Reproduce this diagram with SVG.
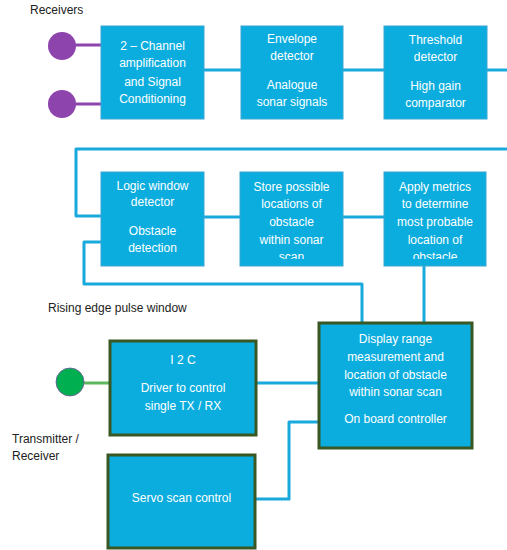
<svg xmlns="http://www.w3.org/2000/svg" width="507" height="550" viewBox="0 0 507 550">
<style>
.box{fill:#0badde;stroke:#3aa6d4;stroke-width:1}
.gbox{fill:#0badde;stroke:#385723;stroke-width:3}
.t{font-family:"Liberation Sans",Arial,sans-serif;font-size:12px;fill:#ffffff;text-anchor:middle}
.lbl{font-family:"Liberation Sans",Arial,sans-serif;font-size:12px;fill:#222222}
.c{fill:none;stroke:#1aa9dc;stroke-width:3;stroke-linejoin:round}
.pl{stroke:#8e44ad;stroke-width:3}
.gl{stroke:#5cb85c;stroke-width:3}
</style>
<defs>
<clipPath id="clip5"><rect x="240" y="172" width="103" height="87"/></clipPath>
<clipPath id="clip6"><rect x="384" y="172" width="103" height="87"/></clipPath>
</defs>
<g id="connectors">
<line class="pl" x1="62" y1="45" x2="101" y2="45"/>
<line class="pl" x1="62" y1="104" x2="101" y2="104"/>
<line class="gl" x1="70" y1="383" x2="110" y2="383"/>
<polyline class="c" points="204,70 241,70"/>
<polyline class="c" points="343,70 384,70"/>
<polyline class="c" points="487,70 507,70"/>
<polyline class="c" points="507,149 76,149 76,216 101,216"/>
<polyline class="c" points="204,217 240,217"/>
<polyline class="c" points="343,217 384,217"/>
<polyline class="c" points="101,242 84,242 84,284 362,284 362,323"/>
<polyline class="c" points="424,266 424,323"/>
<polyline class="c" points="256,383 319,383"/>
<polyline class="c" points="255,499 289,499 289,422 319,422"/>
</g>
<g id="receivers-label"><text class="lbl" x="30" y="14">Receivers</text></g>
<g id="rx1"><circle cx="62" cy="46" r="14" fill="#8e44ad"/></g>
<g id="rx2"><circle cx="62" cy="104" r="14" fill="#8e44ad"/></g>
<g id="amp">
<rect class="box" x="101" y="26" width="103" height="93"/>
<text class="t" x="152.5" y="50">2 – Channel</text>
<text class="t" x="152.5" y="67">amplification</text>
<text class="t" x="152.5" y="86">and Signal</text>
<text class="t" x="152.5" y="103">Conditioning</text>
</g>
<g id="envelope">
<rect class="box" x="241" y="26" width="102" height="93"/>
<text class="t" x="292" y="43">Envelope</text>
<text class="t" x="292" y="60">detector</text>
<text class="t" x="292" y="89">Analogue</text>
<text class="t" x="292" y="106">sonar signals</text>
</g>
<g id="threshold">
<rect class="box" x="384" y="26" width="103" height="93"/>
<text class="t" x="435.5" y="44">Threshold</text>
<text class="t" x="435.5" y="61">detector</text>
<text class="t" x="435.5" y="90">High gain</text>
<text class="t" x="435.5" y="107">comparator</text>
</g>
<g id="logic">
<rect class="box" x="101" y="172" width="103" height="94"/>
<text class="t" x="152.5" y="190">Logic window</text>
<text class="t" x="152.5" y="206">detector</text>
<text class="t" x="152.5" y="235">Obstacle</text>
<text class="t" x="152.5" y="252">detection</text>
</g>
<g id="store">
<rect class="box" x="240" y="172" width="103" height="94"/>
<g clip-path="url(#clip5)">
<text class="t" x="291.5" y="191">Store possible</text>
<text class="t" x="291.5" y="208">locations of</text>
<text class="t" x="291.5" y="226">obstacle</text>
<text class="t" x="291.5" y="244">within sonar</text>
<text class="t" x="291.5" y="261">scan</text>
</g>
</g>
<g id="metrics">
<rect class="box" x="384" y="172" width="102" height="94"/>
<g clip-path="url(#clip6)">
<text class="t" x="435" y="191">Apply metrics</text>
<text class="t" x="435" y="208">to determine</text>
<text class="t" x="435" y="226">most probable</text>
<text class="t" x="435" y="244">location of</text>
<text class="t" x="435" y="261">obstacle</text>
</g>
</g>
<g id="rising-label"><text class="lbl" x="48" y="312">Rising edge pulse window</text></g>
<g id="display">
<rect class="gbox" x="319" y="323" width="153" height="125"/>
<text class="t" x="395.5" y="343">Display range</text>
<text class="t" x="395.5" y="361">measurement and</text>
<text class="t" x="395.5" y="379">location of obstacle</text>
<text class="t" x="395.5" y="396">within sonar scan</text>
<text class="t" x="395.5" y="423">On board controller</text>
</g>
<g id="tx"><circle cx="70" cy="382" r="14" fill="#00b050" stroke="#7a4fa0" stroke-width="0.8"/></g>
<g id="driver">
<rect class="gbox" x="110" y="341" width="146" height="94"/>
<text class="t" x="183" y="364">I 2 C</text>
<text class="t" x="183" y="392">Driver to control</text>
<text class="t" x="183" y="410">single TX / RX</text>
</g>
<g id="tx-label">
<text class="lbl" x="12" y="443">Transmitter /</text>
<text class="lbl" x="12" y="460">Receiver</text>
</g>
<g id="servo">
<rect class="gbox" x="108" y="455" width="147" height="93"/>
<text class="t" x="181.5" y="502">Servo scan control</text>
</g>
</svg>
